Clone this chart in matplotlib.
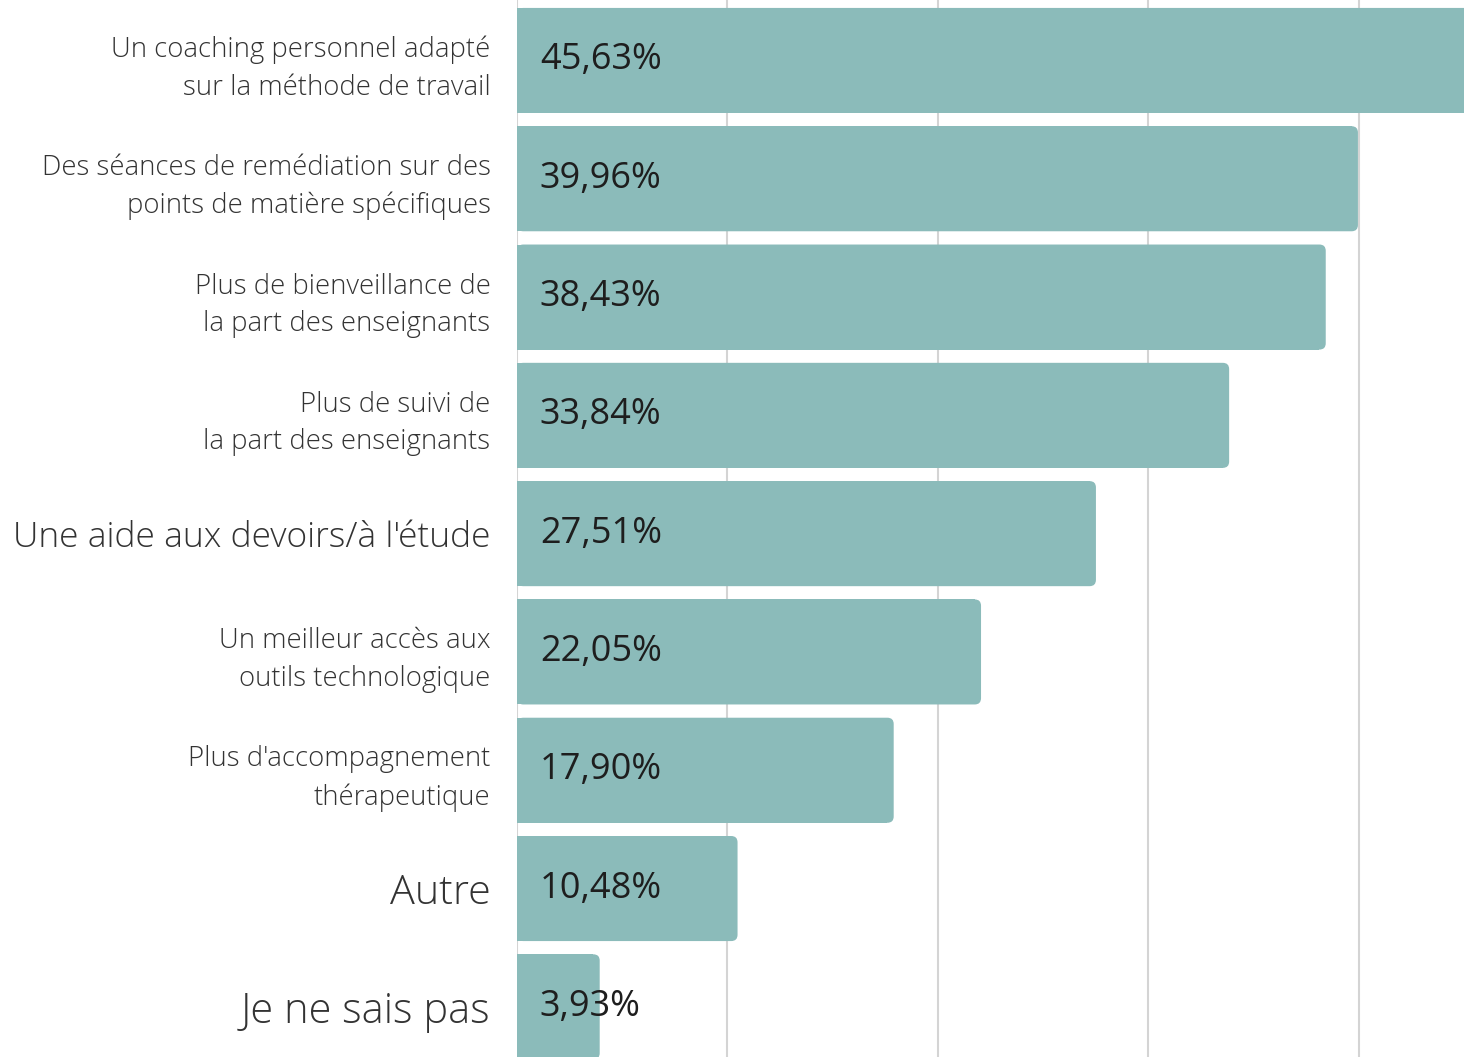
import matplotlib
matplotlib.use("Agg")
import matplotlib.pyplot as plt
from matplotlib.patches import FancyBboxPatch

# survey answers, top to bottom
labels = [
    "Un coaching personnel adapté\nsur la méthode de travail",
    "Des séances de remédiation sur des\npoints de matière spécifiques",
    "Plus de bienveillance de\nla part des enseignants",
    "Plus de suivi de\nla part des enseignants",
    "Une aide aux devoirs/à l'étude",
    "Un meilleur accès aux\noutils technologique",
    "Plus d'accompagnement\nthérapeutique",
    "Autre",
    "Je ne sais pas",
]
values = [45.63, 39.96, 38.43, 33.84, 27.51, 22.05, 17.90, 10.48, 3.93]
label_sizes = [19.8, 19.8, 19.8, 19.8, 25.5, 19.8, 19.8, 29.8, 30]

bar_color = "#8bbbba"

plt.rcParams["font.family"] = ["Open Sans", "DejaVu Sans"]

fig = plt.figure(figsize=(14.64, 10.57), dpi=100)
ax = fig.add_axes([517 / 1464, 0, 1 - 517 / 1464, 1])

ypos = list(range(len(values)))
bars = ax.barh(ypos, values, height=0.888, color=bar_color, zorder=2)

# swap plain bars for ones with rounded right ends
r = 0.3
for b in bars:
    x0, y0, w, h = b.get_x(), b.get_y(), b.get_width(), b.get_height()
    b.set_visible(False)
    ax.add_patch(FancyBboxPatch((x0, y0), w, h,
                                boxstyle=f"round,pad=0,rounding_size={r}",
                                mutation_aspect=0.178,
                                fc=bar_color, ec="none", zorder=2))
    ax.add_patch(plt.Rectangle((x0, y0), w - r, h,
                               fc=bar_color, ec="none", zorder=2))

for y, v in zip(ypos, values):
    txt = f"{v:.2f}%".replace(".", ",")
    ax.annotate(txt, (0, y), xytext=(16.5, 0), textcoords="offset points",
                ha="left", va="center", fontsize=26, color="#1e1e1e", zorder=3)

ax.set_xlim(0, 45.0)
ax.set_ylim(8.424, -0.511)
ax.set_xticks([0, 10, 20, 30, 40])
ax.grid(axis="x", color="#d4d4d4", linewidth=1.5, zorder=0)
ax.tick_params(axis="x", length=0, labelbottom=False)
ax.tick_params(axis="y", length=0, pad=19)
ax.set_yticks(ypos)
ax.set_yticklabels(labels, color="#333333", fontweight="light")
for t, s in zip(ax.get_yticklabels(), label_sizes):
    t.set_fontsize(s)
    t.set_multialignment("right")
    t.set_linespacing(1.45)
for sp in ax.spines.values():
    sp.set_visible(False)

fig.savefig("out.png", dpi=100)
